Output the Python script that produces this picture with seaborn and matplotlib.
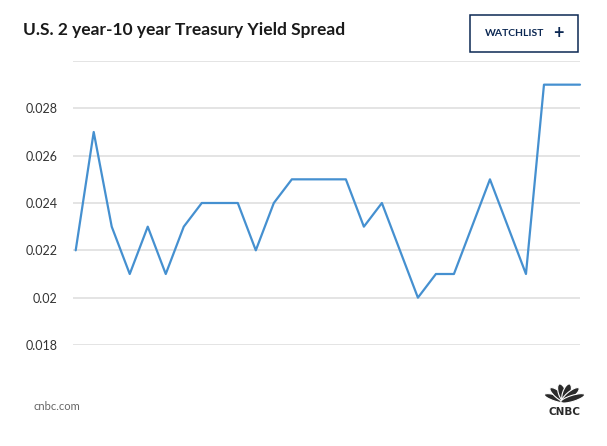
import numpy as np
import pandas as pd
import matplotlib.pyplot as plt
import seaborn as sns
from matplotlib.patches import Rectangle, Ellipse

# Data (one point per trading day)
spread = [0.022, 0.027, 0.023, 0.021, 0.023, 0.021, 0.023, 0.024, 0.024, 0.024,
          0.022, 0.024, 0.025, 0.025, 0.025, 0.025, 0.023, 0.024, 0.022, 0.020,
          0.021, 0.021, 0.023, 0.025, 0.023, 0.021, 0.029, 0.029, 0.029]
yticks = [0.018, 0.020, 0.022, 0.024, 0.026, 0.028, 0.030]
ytick_labels = ["0.018", "0.02", "0.022", "0.024", "0.026", "0.028", ""]

df = pd.DataFrame({"day": range(len(spread)), "spread": spread})

sns.set_style("white")
plt.rcParams["font.family"] = ["Lato", "DejaVu Sans"]

W, H = 607, 446
fig = plt.figure(figsize=(W / 100, H / 100), dpi=100)

def px(x, y):
    return x / W, 1 - y / H

# plot area: x 73..580 px, y 61 (0.030) .. 345 (0.018)
ax = fig.add_axes([73 / W, 1 - 345 / H, (580 - 73) / W, (345 - 61) / H])
sns.lineplot(data=df, x="day", y="spread", ax=ax, color="#4590d0", linewidth=1.6, clip_on=False)
ax.set_xlim(-0.15, len(spread) - 1)
ax.set_ylim(0.018, 0.030)
ax.set_yticks(yticks)
ax.set_yticklabels(ytick_labels)
ax.set_xticks([])
ax.set_xlabel("")
ax.set_ylabel("")
ax.grid(axis="y", color="#dddddd", linewidth=1.1)
ax.set_axisbelow(True)
for s in ax.spines.values():
    s.set_visible(False)
ax.tick_params(axis="y", length=0, pad=11, labelsize=9, labelcolor="#333333")

# header
fig.text(*px(23, 30), "U.S. 2 year-10 year Treasury Yield Spread", fontsize=12.5,
         fontweight="bold", color="#1a1a1a", va="center", ha="left")
fig.patches.append(Rectangle(px(470, 52), 108 / W, 37 / H, transform=fig.transFigure,
                             fill=False, edgecolor="#0c2853", linewidth=1.1))
fig.text(*px(485, 34), "WATCHLIST", fontsize=7.5, fontweight="bold",
         color="#0c2853", va="center", ha="left")
fig.text(*px(558, 33.5), "+", fontsize=13, fontweight="bold",
         color="#0c2853", va="center", ha="center")

# footer
fig.text(*px(33, 407), "cnbc.com", fontsize=8, color="#666666", va="center", ha="left")
cx, cy = 564.5, 402
for ang in [-66, -40, -13, 13, 40, 66]:
    r = np.deg2rad(ang)
    ex, ey = cx + 9 * np.sin(r), cy - 9 * np.cos(r)
    fig.patches.append(Ellipse(px(ex, ey), 8 / W, 19 / H, angle=-ang,
                               transform=fig.transFigure, facecolor="#2a2a2a",
                               edgecolor="white", linewidth=0.8))
fig.text(*px(564.5, 412), "CNBC", fontsize=7.5, fontweight="bold", family="DejaVu Sans",
         color="#2a2a2a", va="center", ha="center")

fig.savefig("out.png", dpi=100)
